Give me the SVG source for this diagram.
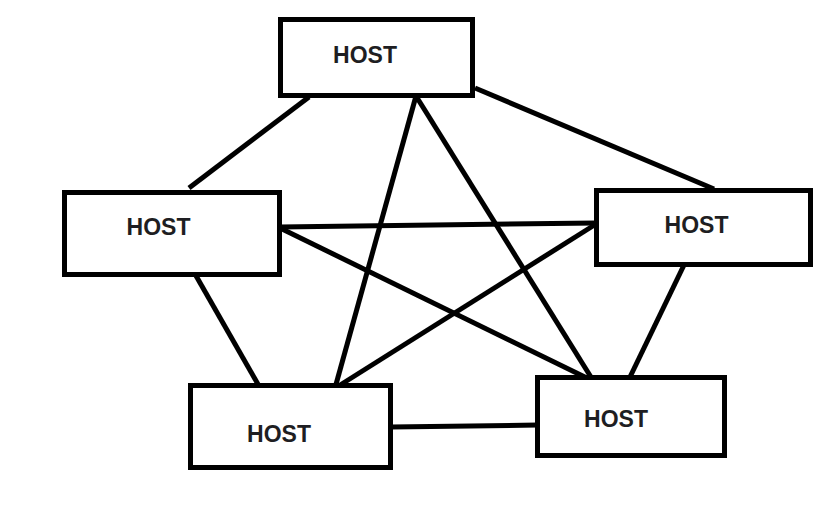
<svg xmlns="http://www.w3.org/2000/svg" width="830" height="507" viewBox="0 0 830 507">
<style>
.box{fill:#fff;stroke:#000;stroke-width:5}
.lbl{font-family:"Liberation Sans",Arial,sans-serif;font-weight:bold;font-size:23px;fill:#1e1e22;text-anchor:middle}
.conn line{stroke:#000;stroke-width:5;stroke-linecap:butt}
</style>
<rect width="830" height="507" fill="#fff"/>
<g id="connectors" class="conn">
<line x1="309" y1="97" x2="189" y2="188"/>
<line x1="475" y1="88" x2="714" y2="189"/>
<line x1="416" y1="96" x2="335" y2="388"/>
<line x1="416" y1="96" x2="594" y2="382"/>
<line x1="280" y1="227" x2="596" y2="223"/>
<line x1="280" y1="228" x2="593" y2="381"/>
<line x1="596" y1="224" x2="337" y2="387"/>
<line x1="195" y1="274" x2="259" y2="386"/>
<line x1="684" y1="265" x2="630" y2="377"/>
<line x1="391" y1="427" x2="538" y2="425"/>
</g>
<g id="host-top"><rect class="box" x="280.5" y="19.5" width="192" height="76"/><text class="lbl" x="365" y="63">HOST</text></g>
<g id="host-left"><rect class="box" x="64.5" y="192.5" width="215" height="82"/><text class="lbl" x="158.5" y="235">HOST</text></g>
<g id="host-right"><rect class="box" x="596.5" y="190.5" width="214" height="74"/><text class="lbl" x="696.5" y="233">HOST</text></g>
<g id="host-bottom-left"><rect class="box" x="190.5" y="385.5" width="200" height="82"/><text class="lbl" x="279" y="442">HOST</text></g>
<g id="host-bottom-right"><rect class="box" x="537.5" y="377.5" width="187" height="78"/><text class="lbl" x="616" y="427">HOST</text></g>
</svg>
